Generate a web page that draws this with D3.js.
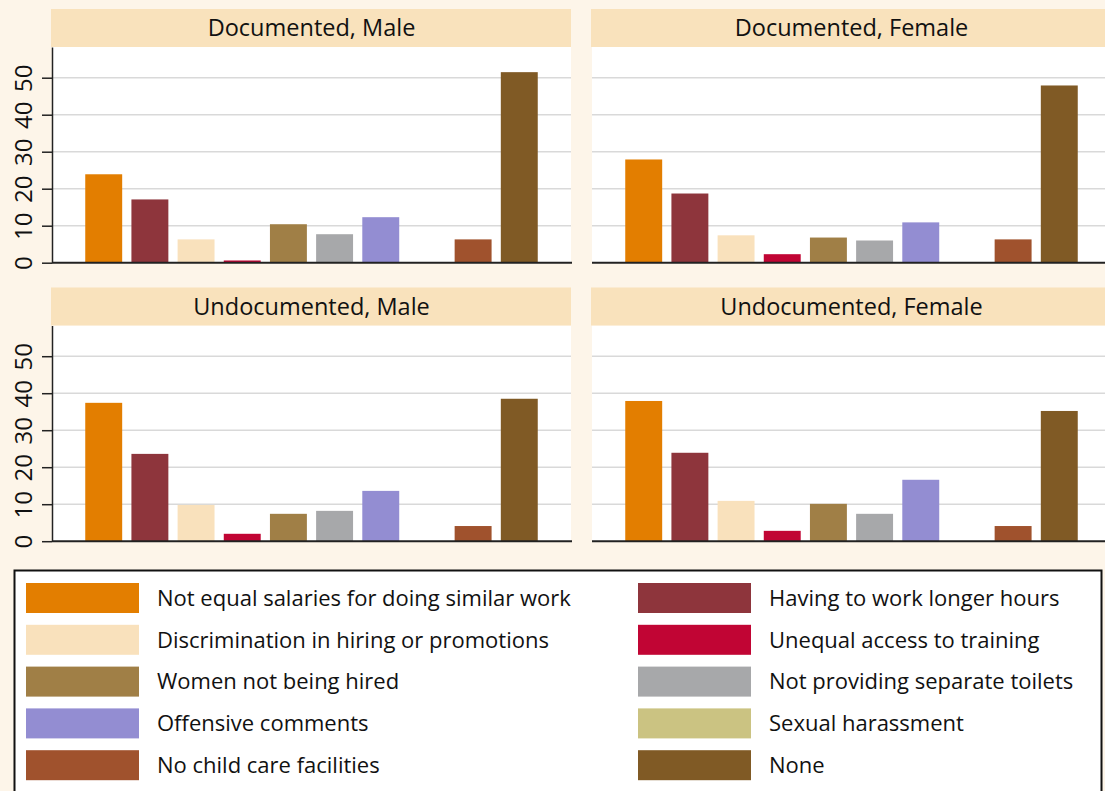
<!DOCTYPE html>
<html>
<head>
<meta charset="utf-8">
<script src="https://cdn.jsdelivr.net/npm/d3@7"></script>
<style>
  html, body { margin: 0; padding: 0; background: #FDF5E9; }
  svg { display: block; font-family: "Open Sans", sans-serif; }
</style>
</head>
<body>
<svg id="chart" width="1105" height="791"></svg>
<script>
// ---- data ----
const categories = [
  "Not equal salaries for doing similar work",
  "Having to work longer hours",
  "Discrimination in hiring or promotions",
  "Unequal access to training",
  "Women not being hired",
  "Not providing separate toilets",
  "Offensive comments",
  "Sexual harassment",
  "No child care facilities",
  "None"
];
const colors = ["#E37E00", "#8E353C", "#F9E1BC", "#C10534", "#A07F46",
                "#A7A8AA", "#938DD2", "#CBC382", "#A0522D", "#805A25"];
const panelTitles = ["Documented, Male", "Documented, Female",
                     "Undocumented, Male", "Undocumented, Female"];
const documentedMale     = [23.9, 17.1, 6.3, 0.6, 10.4, 7.7, 12.3, 0, 6.3, 51.5];
const documentedFemale   = [27.9, 18.7, 7.4, 2.3, 6.8, 6.0, 10.9, 0, 6.3, 47.9];
const undocumentedMale   = [37.4, 23.6, 9.8, 2.0, 7.4, 8.2, 13.6, 0, 4.1, 38.5];
const undocumentedFemale = [37.9, 23.9, 10.9, 2.8, 10.1, 7.4, 16.6, 0, 4.1, 35.2];
const yTicks = [0, 10, 20, 30, 40, 50];
const yMax = 58.3;

const panelValues = [documentedMale, documentedFemale, undocumentedMale, undocumentedFemale];

// ---- layout ----
const svg = d3.select("#chart");
const plotW = 519, plotH = 215.7, headerH = 38;
const colX = [52, 592];
const rowTop = [9, 287.5];

const x = d3.scaleBand().domain(d3.range(categories.length))
  .range([0, plotW]).paddingInner(0.2).paddingOuter(0.72);
const y = d3.scaleLinear().domain([0, yMax]).range([plotH, 0]);

panelValues.forEach((vals, p) => {
  const col = p % 2, row = Math.floor(p / 2);
  const g = svg.append("g")
    .attr("transform", `translate(${colX[col]},${rowTop[row] + headerH})`);

  // header
  svg.append("rect")
    .attr("x", colX[col] - 1).attr("y", rowTop[row])
    .attr("width", plotW + 1).attr("height", headerH)
    .attr("fill", "#F9E2BC");
  svg.append("text")
    .attr("x", colX[col] + plotW / 2).attr("y", rowTop[row] + headerH / 2)
    .attr("dy", "0.35em").attr("text-anchor", "middle")
    .attr("font-size", 23.5).attr("fill", "#111")
    .text(panelTitles[p]);

  // plot background
  g.append("rect").attr("x", 0).attr("y", 0)
    .attr("width", plotW).attr("height", plotH).attr("fill", "#fff");

  // gridlines
  g.selectAll("line.grid").data(yTicks.filter(t => t > 0)).join("line")
    .attr("class", "grid")
    .attr("x1", 0).attr("x2", plotW)
    .attr("y1", d => y(d)).attr("y2", d => y(d))
    .attr("stroke", "#D9D9D9").attr("stroke-width", 1.5);

  // bars
  g.selectAll("rect.bar").data(vals).join("rect")
    .attr("class", "bar")
    .attr("x", (d, i) => x(i)).attr("width", x.bandwidth())
    .attr("y", d => y(d)).attr("height", d => y(0) - y(d))
    .attr("fill", (d, i) => colors[i]);

  // baseline
  g.append("line").attr("x1", 0).attr("x2", plotW + 1)
    .attr("y1", y(0)).attr("y2", y(0))
    .attr("stroke", "#222").attr("stroke-width", 2);

  // y axis on left column
  if (col === 0) {
    const ax = g.append("g").call(d3.axisLeft(y).tickValues(yTicks).tickSize(10).tickSizeOuter(0));
    ax.select(".domain").attr("stroke", "#222").attr("stroke-width", 1.5);
    ax.selectAll(".tick line").attr("stroke", "#222").attr("stroke-width", 1.5);
    ax.selectAll(".tick text")
      .attr("transform", "rotate(-90)")
      .attr("x", 0).attr("y", -20.5).attr("dy", 0)
      .attr("text-anchor", "middle")
      .attr("font-size", 24).attr("fill", "#111")
      .attr("font-family", "Open Sans, sans-serif");
  }
});

// ---- legend ----
const legend = svg.append("g");
legend.append("rect")
  .attr("x", 14.5).attr("y", 570.5).attr("width", 1087).attr("height", 240)
  .attr("fill", "#fff").attr("stroke", "#111").attr("stroke-width", 2);

const legX = [26, 638], legY0 = 583, legStep = 41.8, swW = 113, swH = 30;
const items = legend.selectAll("g.item").data(categories).join("g")
  .attr("class", "item")
  .attr("transform", (d, i) => `translate(${legX[i % 2]},${legY0 + Math.floor(i / 2) * legStep})`);
items.append("rect").attr("width", swW).attr("height", swH)
  .attr("fill", (d, i) => colors[i]);
items.append("text").attr("x", swW + 18).attr("y", swH / 2).attr("dy", "0.35em")
  .attr("font-size", 22).attr("fill", "#111")
  .text(d => d);
</script>
</body>
</html>
